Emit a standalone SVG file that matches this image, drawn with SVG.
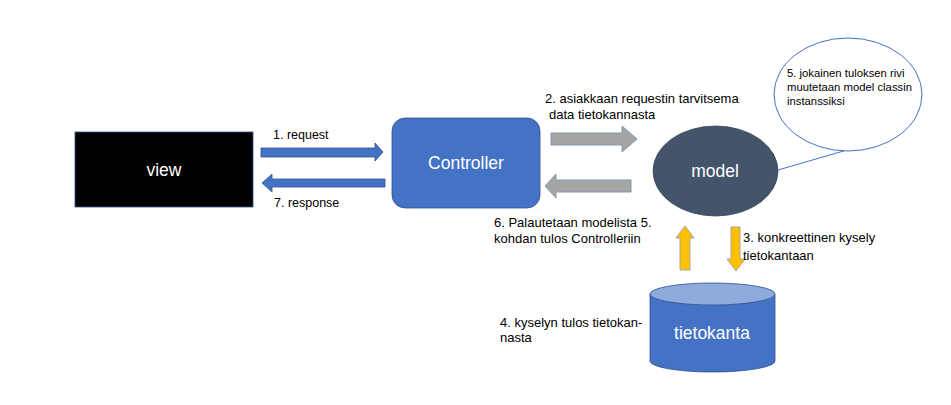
<svg xmlns="http://www.w3.org/2000/svg" width="951" height="405" viewBox="0 0 951 405">
<style>
  text { font-family: "Liberation Sans", Arial, sans-serif; }
  .lbl { font-size: 13px; fill: #000; }
  .small { font-size: 12.5px; fill: #000; }
  .node { font-size: 17.5px; fill: #fff; text-anchor: middle; dominant-baseline: central; }
  .call { font-size: 11.3px; fill: #000; }
  .blue { fill: #4472C4; stroke: #2F528F; stroke-width: 0.8; }
  .gray { fill: #A5A5A5; stroke: #8497B0; stroke-width: 1; }
  .yellow { fill: #FFC000; stroke: #A5A5A5; stroke-width: 1; }
</style>
<rect width="951" height="405" fill="#fff"/>

<g id="connectors">
  <!-- 1. request -->
  <polygon class="blue" points="261,148 375,148 375,143 383,152 375,161 375,157 261,157"/>
  <!-- 7. response -->
  <polygon class="blue" points="385,179 272,179 272,174 262,183 272,192 272,187 385,187"/>
  <!-- 2. to model -->
  <polygon class="gray" points="551,133 622,133 622,126 637,139 622,152 622,145 551,145"/>
  <!-- 6. back to controller -->
  <polygon class="gray" points="631,180 556,180 556,174 545,186 556,198 556,192 631,192"/>
  <!-- 4. up -->
  <polygon class="yellow" points="680,270 680,238 676,238 685,226 694,238 690,238 690,270"/>
  <!-- 3. down -->
  <polygon class="yellow" points="731,227 740,227 740,259 745,259 736,271 727,259 731,259"/>
  <!-- callout tail -->
  <line x1="778" y1="170" x2="847" y2="150" stroke="#4472C4" stroke-width="1"/>
</g>

<g id="view">
  <rect x="75" y="132" width="178" height="75" fill="#000" stroke="#2F528F" stroke-width="0.8"/>
  <text class="node" x="164" y="170">view</text>
</g>

<g id="controller">
  <rect class="blue" x="392" y="118" width="148" height="90" rx="13" ry="13"/>
  <text class="node" x="466" y="163">Controller</text>
</g>

<g id="model">
  <ellipse cx="715.5" cy="171" rx="62.5" ry="45" fill="#44546A" stroke="#3A4A5E" stroke-width="0.8"/>
  <text class="node" x="715" y="171">model</text>
</g>

<g id="callout">
  <ellipse cx="848" cy="94.5" rx="74" ry="56.5" fill="#fff" stroke="#4472C4" stroke-width="1"/>
  <text class="call" x="787" y="77">5. jokainen tuloksen rivi</text>
  <text class="call" x="787" y="91" textLength="125" lengthAdjust="spacing">muutetaan model classin</text>
  <text class="call" x="787" y="105">instanssiksi</text>
</g>

<g id="tietokanta">
  <path class="blue" d="M650,294 L650,361 A62.5,11 0 0 0 775,361 L775,294 Z"/>
  <ellipse cx="712.5" cy="294" rx="62.5" ry="11" fill="#8FAADC" stroke="#2F528F" stroke-width="0.8"/>
  <text class="node" x="712" y="333">tietokanta</text>
</g>

<g id="labels">
  <text class="small" x="273" y="139">1. request</text>
  <text class="small" x="274" y="207">7. response</text>
  <text class="lbl" x="545" y="103">2. asiakkaan requestin tarvitsema</text>
  <text class="lbl" x="549" y="119">data tietokannasta</text>
  <text class="lbl" x="494" y="227">6. Palautetaan modelista 5.</text>
  <text class="lbl" x="494" y="243">kohdan tulos Controlleriin</text>
  <text class="lbl" x="743" y="242">3. konkreettinen kysely</text>
  <text class="lbl" x="743" y="260">tietokantaan</text>
  <text class="lbl" x="500" y="327">4. kyselyn tulos tietokan-</text>
  <text class="lbl" x="500" y="342">nasta</text>
</g>
</svg>
